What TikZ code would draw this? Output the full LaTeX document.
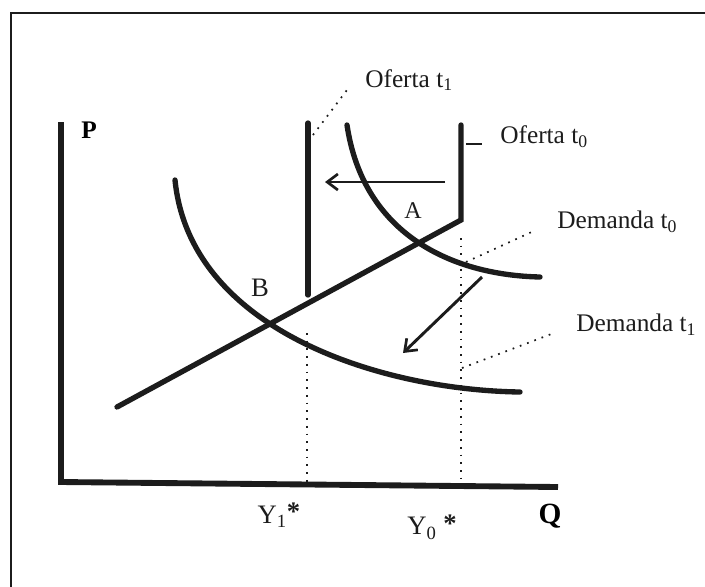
\documentclass[tikz,border=0pt]{standalone}
\usepackage{fontspec}
\setmainfont{Liberation Serif}
\usetikzlibrary{arrows.meta, positioning, calc}
\definecolor{inkblack}{RGB}{28, 28, 28}
\tikzset{
  curve/.style={line width=4pt, color=inkblack, line cap=round},
  axisline/.style={line width=4.4pt, color=inkblack, line join=miter},
  shiftarr/.style={-{Straight Barb[length=8pt, width=12pt, line width=2pt]}, line width=2.2pt, color=inkblack},
  guide/.style={line width=1.3pt, color=inkblack, dash pattern=on 1.3pt off 4.5pt},
  leader/.style={line width=1.3pt, color=inkblack, dash pattern=on 1.3pt off 4.5pt},
  lbl/.style={font=\fontsize{19}{22}\selectfont, inner sep=0pt, text=inkblack},
  pt/.style={font=\fontsize{18}{22}\selectfont, inner sep=0pt, text=inkblack},
}
\begin{document}
\begin{tikzpicture}[x=0.75pt, y=-0.75pt]
  \useasboundingbox (0,0) rectangle (705,586);
  \clip (0,0) rectangle (705,586);
  % frame
  \draw[line width=2.2pt, color=inkblack] (11,600) -- (11,13) -- (720,13);
  % axes
  \coordinate (ptop) at (61,122);
  \coordinate (orig) at (61,482);
  \coordinate (qend) at (558,487);
  \draw[axisline] (ptop) -- (orig) -- (qend);
  \node[font=\bfseries\fontsize{19}{22}\selectfont, inner sep=0pt] (plab) at (89,130) {P};
  \node[font=\bfseries\fontsize{22}{24}\selectfont, inner sep=0pt] (qlab) at (550,516) {Q};
  % supply curves
  \coordinate (s0top) at (461,125);
  \coordinate (s0kink) at (461,220);
  \coordinate (s0low) at (117,407);
  \draw[curve, line join=miter] (s0top) -- (s0kink) -- (s0low);
  \coordinate (s1top) at (308,123);
  \coordinate (s1low) at (308,295);
  \draw[curve] (s1top) -- (s1low);
  % demand curves
  \coordinate (d0a) at (347,125);
  \coordinate (d0b) at (540,277);
  \draw[curve] (d0a) .. controls (363,233) and (450,275) .. (d0b);
  \coordinate (d1a) at (175,180);
  \coordinate (d1b) at (520,392);
  \draw[curve] (d1a) .. controls (190,330) and (380,390) .. (d1b);
  % shifts
  \coordinate (ha) at (445,182);
  \coordinate (hb) at (325,182);
  \draw[shiftarr] (ha) -- (hb);
  \coordinate (da) at (482,277);
  \coordinate (db) at (403,353);
  \draw[shiftarr] (da) -- (db);
  % equilibria
  \node[pt] (eqa) at (413,211) {A};
  \node[pt, font=\fontsize{20}{22}\selectfont] (eqb) at (260,288) {B};
  % quantities
  \coordinate (y1top) at (307,333);
  \coordinate (y1bot) at (307,482);
  \draw[guide] (y1top) -- (y1bot);
  \coordinate (y0top) at (461,238);
  \coordinate (y0bot) at (461,484);
  \draw[guide] (y0top) -- (y0bot);
  \node[lbl, font=\fontsize{20}{22}\selectfont] (y1lab) at (279,515) {Y\textsubscript{1}\raisebox{2pt}{\textbf{*}}};
  \node[lbl, font=\fontsize{20}{22}\selectfont] (y0lab) at (432,527) {Y\textsubscript{0} \raisebox{2pt}{\textbf{*}}};
  % labels with leaders
  \node[lbl, anchor=west] (of1) at (365,80) {Oferta t\textsubscript{1}};
  \node[lbl, anchor=west] (of0) at (500,137) {Oferta t\textsubscript{0}};
  \node[lbl, anchor=west] (dm0) at (557,222) {Demanda t\textsubscript{0}};
  \node[lbl, anchor=west] (dm1) at (576,325) {Demanda t\textsubscript{1}};
  \coordinate (l1a) at (313,135);
  \coordinate (l1b) at (347,90);
  \draw[leader] (l1a) -- (l1b);
  \coordinate (l0a) at (466,144);
  \coordinate (l0b) at (482,144);
  \draw[line width=1.2pt, color=inkblack] (l0a) -- (l0b);
  \coordinate (m0a) at (466,262);
  \coordinate (m0b) at (536,230);
  \draw[leader] (m0a) -- (m0b);
  \coordinate (m1a) at (462,368);
  \coordinate (m1b) at (554,333);
  \draw[leader] (m1a) -- (m1b);
\end{tikzpicture}
\end{document}
